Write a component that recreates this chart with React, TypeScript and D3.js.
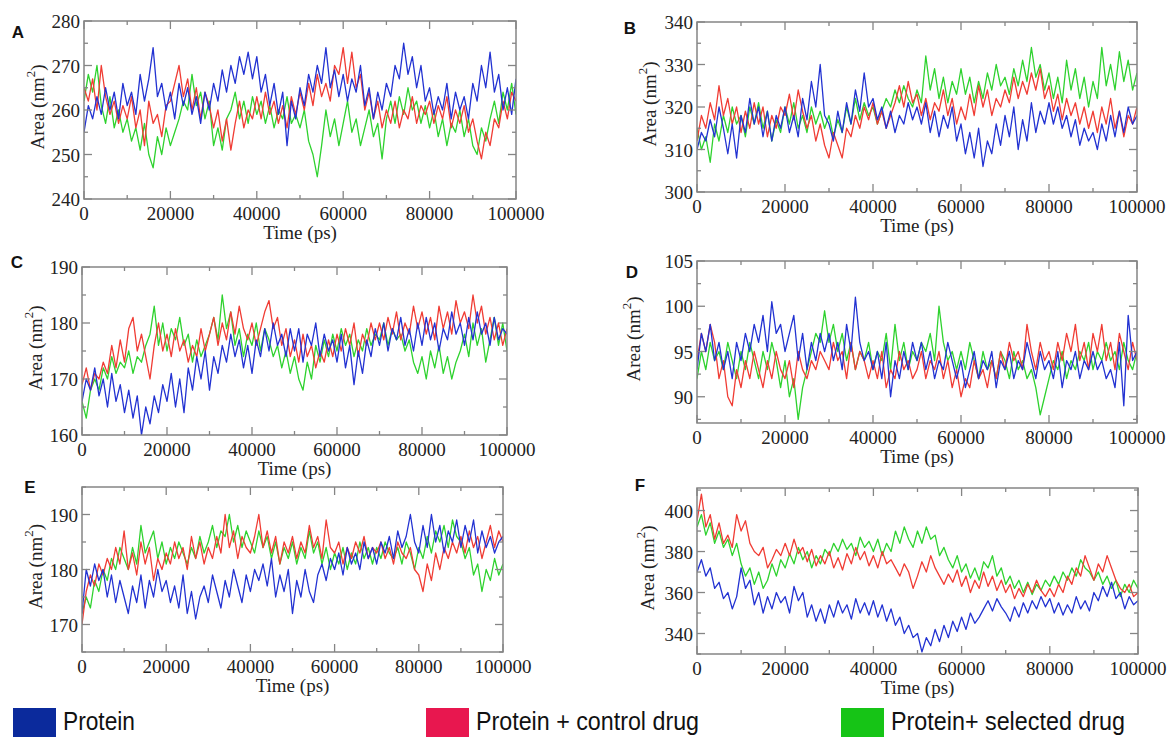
import React from 'react';
import * as d3 from 'd3';

// sampling grid of the traces (ps)
const times = d3.range(0, 100001, 1000);

// panel A – total SASA
const aBlue = [255, 261, 258, 263, 259, 265, 260, 264, 258, 266,
  261, 264, 259, 268, 262, 267, 274, 263, 266, 260,
  264, 258, 266, 261, 265, 259, 263, 257, 264, 260,
  266, 262, 269, 264, 270, 266, 272, 268, 273, 267,
  272, 264, 268, 261, 266, 259, 264, 252, 262, 258,
  265, 261, 268, 264, 270, 266, 274, 265, 269, 263,
  268, 262, 267, 264, 270, 261, 265, 258, 264, 260,
  266, 263, 270, 267, 275, 268, 272, 265, 270, 262,
  265, 259, 263, 260, 266, 258, 264, 260, 263, 258,
  266, 262, 270, 265, 273, 264, 268, 260, 265, 259, 267];
const aRed = [265, 262, 267, 260, 270, 263, 259, 262, 257, 261,
  258, 263, 256, 260, 252, 262, 257, 259, 254, 261,
  262, 266, 270, 263, 267, 260, 265, 258, 264, 261,
  256, 260, 253, 258, 251, 257, 262, 256, 260, 258,
  263, 258, 264, 259, 262, 257, 261, 256, 263, 259,
  264, 260, 266, 261, 268, 263, 266, 262, 270, 268,
  274, 266, 273, 265, 268, 260, 264, 258, 262, 256,
  260, 257, 262, 256, 260, 258, 263, 257, 261, 259,
  262, 257, 261, 258, 263, 256, 260, 257, 261, 255,
  258, 253, 249, 255, 252, 258, 256, 262, 258, 264, 262];
const aGreen = [262, 268, 264, 270, 261, 257, 263, 256, 260, 255,
  258, 253, 256, 251, 257, 250, 247, 254, 250, 256,
  252, 255, 258, 262, 260, 268, 261, 264, 258, 262,
  252, 256, 251, 258, 260, 264, 258, 262, 257, 263,
  259, 262, 257, 261, 256, 260, 258, 263, 257, 259,
  256, 260, 253, 250, 245, 252, 260, 254, 258, 252,
  257, 262, 255, 258, 252, 256, 260, 254, 257, 249,
  258, 262, 257, 263, 259, 265, 260, 262, 257, 261,
  256, 260, 254, 258, 252, 257, 255, 260, 254, 258,
  252, 250, 256, 253, 258, 262, 257, 264, 260, 266, 259];

// panel B
const bBlue = [310, 314, 312, 317, 313, 320, 315, 309, 316, 308,
  318, 314, 322, 316, 320, 313, 319, 312, 318, 315,
  320, 314, 318, 313, 322, 317, 326, 320, 330, 318,
  316, 312, 319, 314, 321, 316, 324, 319, 328, 320,
  322, 317, 320, 315, 319, 314, 318, 316, 321, 317,
  320, 316, 321, 314, 319, 313, 318, 315, 320, 312,
  316, 309, 314, 308, 315, 306, 312, 309, 316, 311,
  318, 313, 320, 310, 317, 312, 321, 314, 319, 316,
  321, 316, 320, 315, 318, 313, 317, 311, 315, 312,
  314, 310, 316, 312, 318, 313, 319, 314, 320, 316, 318];
const bRed = [312, 318, 315, 321, 317, 325, 318, 322, 316, 320,
  314, 319, 315, 321, 316, 320, 313, 318, 315, 320,
  318, 323, 317, 324, 319, 315, 318, 312, 316, 311,
  308, 314, 311, 308, 315, 313, 318, 315, 320, 317,
  321, 316, 319, 315, 318, 321, 325, 320, 326, 321,
  323, 318, 322, 317, 321, 319, 324, 318, 322, 316,
  320, 317, 323, 318, 325, 320, 324, 318, 322, 320,
  324, 321, 327, 322, 326, 323, 328, 324, 329, 322,
  325, 319, 323, 317, 322, 318, 321, 316, 320, 315,
  319, 314, 320, 316, 322, 315, 319, 313, 318, 316, 320];
const bGreen = [315, 310, 313, 307, 316, 312, 318, 314, 320, 316,
  318, 313, 320, 316, 321, 315, 319, 312, 317, 314,
  320, 316, 321, 315, 318, 314, 320, 316, 319, 315,
  318, 313, 317, 314, 320, 316, 322, 317, 321, 318,
  320, 316, 319, 322, 320, 324, 321, 325, 322, 320,
  324, 321, 332, 324, 329, 322, 327, 321, 326, 323,
  329, 323, 327, 321, 326, 322, 328, 324, 330, 325,
  327, 323, 329, 325, 331, 326, 334, 327, 330, 324,
  328, 322, 327, 321, 331, 324, 329, 322, 327, 320,
  326, 322, 334, 325, 330, 324, 333, 326, 331, 324, 328];

// panel C
const cBlue = [166, 170, 168, 172, 167, 170, 165, 171, 166, 169,
  164, 168, 163, 167, 160, 165, 162, 167, 164, 169,
  166, 171, 165, 170, 164, 172, 168, 174, 170, 175,
  168, 174, 171, 176, 173, 178, 174, 177, 172, 176,
  171, 177, 174, 179, 175, 180, 176, 178, 174, 179,
  175, 179, 173, 178, 176, 180, 174, 178, 175, 177,
  173, 178, 172, 176, 169, 175, 171, 177, 174, 179,
  176, 180, 175, 179, 177, 181, 176, 179, 175, 180,
  176, 181, 177, 180, 175, 179, 177, 182, 178, 180,
  176, 181, 177, 182, 178, 180, 176, 181, 177, 179, 178];
const cRed = [169, 172, 168, 171, 170, 173, 171, 176, 172, 177,
  173, 179, 181, 175, 178, 174, 170, 176, 180, 175,
  178, 174, 179, 175, 177, 173, 176, 174, 179, 175,
  178, 181, 176, 180, 177, 182, 178, 183, 179, 177,
  180, 176, 179, 182, 184, 179, 181, 176, 179, 174,
  177, 173, 178, 174, 176, 172, 175, 173, 177, 174,
  178, 175, 179, 176, 180, 174, 178, 176, 180, 177,
  180, 177, 181, 178, 182, 177, 180, 178, 183, 179,
  182, 178, 181, 177, 183, 179, 182, 178, 184, 180,
  182, 179, 185, 180, 183, 178, 181, 177, 180, 176, 179];
const cGreen = [166, 163, 168, 170, 168, 172, 170, 174, 171, 173,
  172, 175, 171, 174, 173, 176, 178, 183, 176, 180,
  175, 179, 177, 181, 176, 178, 173, 177, 174, 176,
  178, 181, 177, 185, 179, 182, 176, 179, 174, 178,
  176, 180, 175, 179, 177, 174, 176, 172, 175, 171,
  174, 170, 168, 173, 170, 176, 173, 177, 174, 178,
  175, 179, 176, 178, 174, 177, 175, 179, 176, 178,
  177, 180, 176, 179, 177, 178, 175, 177, 173, 171,
  174, 170, 175, 172, 176, 171, 174, 170, 173, 175,
  178, 174, 180, 176, 179, 173, 177, 181, 176, 180, 175];

// panel D
const dBlue = [93, 97, 95, 98, 94, 96, 93, 95, 92, 96,
  94, 97, 95, 98, 96, 99, 95, 100.5, 97, 98,
  95, 97, 99, 94, 97, 93, 96, 94, 97, 95,
  97, 94, 96, 93, 98, 95, 101, 96, 94, 95,
  93, 95, 92, 96, 90, 94, 92, 95, 93, 96,
  94, 96, 93, 95, 92, 94, 93, 96, 94, 92,
  94, 91, 93, 95, 92, 94, 93, 95, 91, 94,
  93, 95, 92, 94, 93, 96, 94, 92, 95, 93,
  94, 92, 95, 91, 94, 93, 95, 92, 94, 93,
  95, 93, 94, 92, 93, 91, 96, 89, 99, 94, 95];
const dRed = [94, 97, 95, 98, 96, 92, 94, 90, 89, 93,
  91, 94, 92, 95, 93, 91, 94, 92, 95, 93,
  92, 94, 91, 95, 93, 92, 94, 93, 95, 94,
  93, 96, 94, 95, 92, 96, 93, 95, 94, 92,
  94, 92, 95, 91, 93, 92, 95, 93, 94, 92,
  93, 95, 92, 94, 93, 95, 92, 94, 91, 93,
  90, 92, 91, 94, 92, 93, 91, 94, 92, 95,
  93, 96, 94, 95, 93, 98, 95, 93, 96, 94,
  95, 93, 96, 94, 97, 95, 98, 94, 96, 93,
  97, 95, 98, 94, 96, 93, 97, 95, 93, 96, 94];
const dGreen = [92, 95, 93, 96, 94, 95, 93, 96, 94, 92,
  95, 93, 96, 94, 92, 95, 93, 96, 94, 91,
  94, 90, 92, 87.5, 91, 93, 95, 97, 96, 99.5,
  96, 98, 95, 97, 94, 96, 93, 95, 94, 96,
  93, 95, 94, 97, 93, 98, 94, 96, 93, 95,
  94, 96, 95, 97, 94, 100, 96, 94, 95, 93,
  95, 93, 96, 94, 92, 95, 93, 94, 92, 95,
  94, 92, 95, 93, 94, 92, 93, 91, 88, 90,
  92, 94, 93, 95, 92, 94, 93, 95, 94, 96,
  93, 95, 94, 96, 94, 95, 93, 96, 94, 93, 95];

// panel E
const eBlue = [172, 180, 177, 181, 178, 180, 175, 179, 174, 178,
  175, 172, 177, 174, 179, 173, 178, 175, 180, 176,
  178, 174, 177, 173, 179, 172, 176, 171, 175, 177,
  174, 179, 176, 173, 178, 175, 180, 177, 174, 179,
  176, 180, 178, 181, 177, 182, 175, 179, 176, 180,
  172, 178, 175, 180, 176, 174, 179, 181, 178, 182,
  180, 183, 179, 184, 181, 183, 180, 185, 182, 184,
  181, 185, 183, 186, 182, 187, 184, 186, 190, 185,
  183, 188, 184, 190, 185, 188, 183, 187, 185, 189,
  184, 188, 185, 189, 183, 187, 184, 186, 183, 185, 186];
const eRed = [170, 176, 179, 177, 181, 179, 182, 180, 184, 181,
  187, 180, 183, 179, 185, 181, 184, 178, 182, 180,
  183, 181, 185, 182, 184, 180, 186, 182, 185, 181,
  184, 182, 186, 183, 190, 184, 187, 182, 186, 184,
  183, 186, 190, 184, 187, 183, 186, 181, 185, 183,
  186, 182, 185, 183, 188, 184, 186, 182, 189, 184,
  183, 185, 181, 184, 182, 185, 183, 186, 182, 184,
  183, 185, 182, 184, 181, 185, 183, 182, 184, 180,
  179, 176, 181, 178, 183, 180, 184, 182, 185, 183,
  186, 183, 187, 184, 186, 182, 185, 188, 184, 187, 185];
const eGreen = [172, 175, 173, 178, 176, 180, 178, 182, 180, 184,
  182, 180, 184, 181, 188, 183, 185, 187, 182, 185,
  181, 184, 182, 185, 183, 181, 184, 182, 186, 183,
  185, 188, 184, 187, 186, 190, 185, 188, 184, 187,
  185, 183, 187, 184, 186, 182, 185, 181, 184, 182,
  185, 181, 184, 182, 187, 183, 185, 181, 184, 180,
  183, 181, 184, 180, 183, 181, 185, 182, 184, 181,
  184, 182, 185, 183, 182, 184, 181, 185, 183, 180,
  184, 182, 186, 183, 187, 185, 188, 184, 189, 186,
  185, 182, 184, 179, 181, 176, 180, 178, 182, 179, 181];

// panel F
const fBlue = [370, 376, 368, 372, 362, 365, 357, 360, 352, 358,
  372, 362, 366, 354, 360, 350, 358, 352, 360, 355,
  358, 350, 363, 356, 360, 348, 354, 346, 352, 345,
  354, 348, 356, 350, 354, 347, 357, 350, 355, 349,
  356, 348, 354, 346, 352, 344, 348, 340, 344, 338,
  340, 331, 338, 334, 342, 336, 344, 338, 346, 341,
  348, 342, 350, 345, 348, 352, 356, 351, 357, 353,
  350, 346, 353, 348, 355, 350, 356, 352, 358, 353,
  357, 350, 355, 349, 354, 350, 358, 352, 356, 351,
  360, 356, 363, 358, 365, 357, 360, 352, 358, 354, 356];
const fRed = [395, 408, 392, 398, 386, 394, 384, 388, 382, 398,
  390, 395, 384, 380, 378, 382, 372, 376, 381, 378,
  384, 378, 386, 379, 382, 375, 381, 373, 378, 374,
  380, 372, 377, 371, 379, 374, 382, 376, 380, 373,
  378, 372, 380, 374, 376, 372, 368, 374, 370, 362,
  368, 375, 370, 378, 372, 368, 364, 369, 365, 371,
  363, 368, 360, 366, 362, 370, 363, 368, 361, 366,
  360, 364, 357, 362, 358, 364, 360, 366, 361, 358,
  362, 358, 364, 360, 368, 364, 372, 368, 378, 372,
  366, 374, 370, 378, 372, 366, 362, 360, 364, 358, 360];
const fGreen = [392, 398, 388, 394, 384, 390, 382, 386, 378, 384,
  374, 368, 372, 364, 370, 362, 366, 374, 368, 376,
  372, 379, 374, 382, 376, 380, 372, 378, 374, 381,
  378, 384, 380, 386, 381, 384, 378, 387, 382, 385,
  380, 386, 378, 384, 380, 390, 384, 392, 386, 382,
  390, 384, 392, 386, 388, 378, 382, 376, 372, 378,
  370, 374, 367, 372, 366, 375, 372, 378, 368, 372,
  364, 368, 362, 366, 360, 365, 359, 364, 361, 366,
  363, 368, 364, 370, 366, 372, 368, 376, 372, 370,
  366, 370, 364, 368, 362, 366, 358, 364, 360, 366, 362];

const legendLabels = ['Protein', 'Protein + control drug', 'Protein+ selected drug'];
const xTickLabels = ['0', '20000', '40000', '60000', '80000', '100000'];

const lineColors = ['#2232d2', '#f03c34', '#2ed22e'];
const legendColors = ['#0b2a9c', '#e8174f', '#16c416'];

// layout of the six panels: [left, right, top, bottom] in px
const panels = [
  { id: 'A', box: [84, 516, 21, 199], domain: [240, 280], major: 10, minor: 5, data: [aBlue, aRed, aGreen], letter: [18, 38], yLab: 44 },
  { id: 'B', box: [697, 1137, 22, 192], domain: [300, 340], major: 10, minor: 5, data: [bBlue, bRed, bGreen], letter: [630, 34], yLab: 656 },
  { id: 'C', box: [82, 507, 267, 435], domain: [160, 190], major: 10, minor: 5, data: [cBlue, cRed, cGreen], letter: [17, 268], yLab: 42 },
  { id: 'D', box: [697, 1137, 261, 423], domain: [87.1, 105], major: 5, minor: 2.5, data: [dBlue, dRed, dGreen], letter: [632, 278], yLab: 640 },
  { id: 'E', box: [82, 503, 487, 652], domain: [165, 195], major: 10, minor: 5, data: [eBlue, eRed, eGreen], letter: [30, 493], yLab: 42 },
  { id: 'F', box: [697, 1138, 488, 654], domain: [330, 411], major: 20, minor: 10, data: [fBlue, fRed, fGreen], letter: [640, 491], yLab: 654 },
];

const serif = '"Liberation Serif", "Times New Roman", serif';
const sans = '"Liberation Sans", Arial, sans-serif';
const frame = '#858585';

function Panel({ p }) {
  const [x0, x1, y0, y1] = p.box;
  const x = d3.scaleLinear().domain([0, 100000]).range([x0, x1]);
  const y = d3.scaleLinear().domain(p.domain).range([y1, y0]);
  const line = d3.line<number>().x((_, i) => x(times[i])).y((d) => y(d));

  const xMinor = d3.range(0, 100001, 10000);
  const yStart = Math.ceil(p.domain[0] / p.minor - 1e-9) * p.minor;
  const yTicks = d3.range(yStart, p.domain[1] + 1e-9, p.minor);
  const isMajor = (v: number) => Math.abs(v / p.major - Math.round(v / p.major)) < 1e-6;
  const clipId = `clip-${p.id}`;
  const midY = (y0 + y1) / 2 - 3;

  return (
    <g>
      <defs>
        <clipPath id={clipId}>
          <rect x={x0} y={y0} width={x1 - x0} height={y1 - y0} />
        </clipPath>
      </defs>
      <g clipPath={`url(#${clipId})`}>
        {[2, 1, 0].map((k) => (
          <path key={k} d={line(p.data[k]) || ''} fill="none" stroke={lineColors[k]} strokeWidth={1.3} strokeLinejoin="round" />
        ))}
      </g>
      <rect x={x0} y={y0} width={x1 - x0} height={y1 - y0} fill="none" stroke={frame} strokeWidth={1.5} />
      {xMinor.map((t) => {
        const len = t % 20000 === 0 ? 8 : 4;
        return (
          <g key={`x${t}`} stroke={frame} strokeWidth={1.3}>
            <line x1={x(t)} x2={x(t)} y1={y1} y2={y1 - len} />
            <line x1={x(t)} x2={x(t)} y1={y0} y2={y0 + len} />
          </g>
        );
      })}
      {yTicks.map((v) => {
        const len = isMajor(v) ? 8 : 4;
        return (
          <g key={`y${v}`} stroke={frame} strokeWidth={1.3}>
            <line x1={x0} x2={x0 + len} y1={y(v)} y2={y(v)} />
            <line x1={x1} x2={x1 - len} y1={y(v)} y2={y(v)} />
          </g>
        );
      })}
      {xTickLabels.map((lab) => (
        <text key={lab} x={x(+lab)} y={y1 + 21} textAnchor="middle" fontFamily={serif} fontSize={19} fill="#222">{lab}</text>
      ))}
      {yTicks.filter(isMajor).map((v) => (
        <text key={`l${v}`} x={x0 - 4} y={y(v) + 7} textAnchor="end" fontFamily={serif} fontSize={19} fill="#222">{v}</text>
      ))}
      <text x={(x0 + x1) / 2} y={y1 + 40} textAnchor="middle" fontFamily={serif} fontSize={19} fill="#222">Time (ps)</text>
      <text transform={`translate(${p.yLab},${midY}) rotate(-90)`} textAnchor="middle" fontFamily={serif} fontSize={19} fill="#222">
        Area (nm<tspan dy={-9} fontSize={13}>2</tspan><tspan dy={9}>)</tspan>
      </text>
      <text x={p.letter[0]} y={p.letter[1]} textAnchor="middle" fontFamily={sans} fontWeight="bold" fontSize={17} fill="#111">{p.id}</text>
    </g>
  );
}

// legend swatch positions
const legendX = [13, 426, 841];
const legendTextLen = [72, 223, 234];

export default function App() {
  return (
    <svg width={1167} height={737} style={{ position: 'absolute', left: 0, top: 0, background: '#fff' }}>
      <rect width={1167} height={737} fill="#fff" />
      {panels.map((p) => <Panel key={p.id} p={p} />)}
      {legendLabels.map((lab, i) => (
        <g key={lab}>
          <rect x={legendX[i]} y={708} width={43} height={29} fill={legendColors[i]} />
          <text x={legendX[i] + 50} y={730} fontFamily={sans} fontSize={26} fill="#111"
            textLength={legendTextLen[i]} lengthAdjust="spacingAndGlyphs">{lab}</text>
        </g>
      ))}
    </svg>
  );
}
